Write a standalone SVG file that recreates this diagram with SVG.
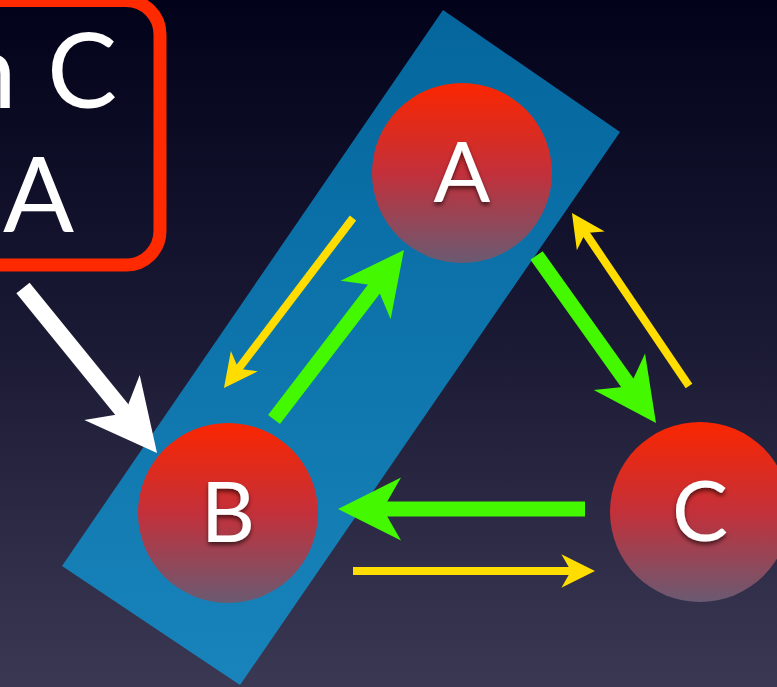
<svg xmlns="http://www.w3.org/2000/svg" width="777" height="687" viewBox="0 0 777 687">
  <defs>
    <linearGradient id="bg" x1="0" y1="0" x2="0" y2="1">
      <stop offset="0" stop-color="#02021a"/>
      <stop offset="0.5" stop-color="#1b1a35"/>
      <stop offset="1" stop-color="#3b3853"/>
    </linearGradient>
    <linearGradient id="blue" x1="0" y1="0" x2="0" y2="1">
      <stop offset="0" stop-color="#04669d"/>
      <stop offset="1" stop-color="#1884bb"/>
    </linearGradient>
    <linearGradient id="ball" x1="0" y1="0" x2="0" y2="1">
      <stop offset="0" stop-color="#fa2600"/>
      <stop offset="0.5" stop-color="#c3303a"/>
      <stop offset="1" stop-color="#6a5a72"/>
    </linearGradient>
    <filter id="shadow" x="-30%" y="-30%" width="160%" height="160%">
      <feDropShadow dx="0" dy="3" stdDeviation="2" flood-color="#000" flood-opacity="0.6"/>
    </filter>
    <marker id="hw" viewBox="-4.5 -2.5 5 5" markerWidth="5" markerHeight="5" refX="-2.8" refY="0" orient="auto">
      <path d="M0,0 L-4.2,-2.1 L-3,0 L-4.2,2.1 Z" fill="#ffffff"/>
    </marker>
    <marker id="hg" viewBox="-4.5 -2.5 5 5" markerWidth="5" markerHeight="5" refX="-2.8" refY="0" orient="auto">
      <path d="M0,0 L-4.2,-2.1 L-3,0 L-4.2,2.1 Z" fill="#44f800"/>
    </marker>
    <marker id="hy" viewBox="-4.5 -2.5 5 5" markerWidth="5" markerHeight="5" refX="-2.8" refY="0" orient="auto">
      <path d="M0,0 L-4.2,-2.1 L-3,0 L-4.2,2.1 Z" fill="#ffdd00"/>
    </marker>
  </defs>
  <style>
    .lbl { font-family: Lato, "Open Sans", "Liberation Sans", sans-serif; fill: #ffffff; }
    .node text { font-size: 84px; text-anchor: middle; }
    .ball { fill: url(#ball); }
    .white { stroke: #ffffff; stroke-width: 17; fill: none; marker-end: url(#hw); }
    .green { stroke: #44f800; stroke-width: 15; fill: none; marker-end: url(#hg); }
    .yellow { stroke: #ffdd00; stroke-width: 8; fill: none; marker-end: url(#hy); }
  </style>

  <rect x="0" y="0" width="777" height="687" fill="url(#bg)"/>

  <g id="highlight">
    <polygon points="443,10 620,132 240,685 62,566" fill="url(#blue)"/>
  </g>

  <g id="note">
    <rect x="-100" y="0.5" width="260" height="264.5" rx="34" fill="none" stroke="#ff2a00" stroke-width="13"/>
    <text class="lbl" font-size="105" y="108"><tspan x="-42">n</tspan> <tspan x="47">C</tspan></text>
    <text class="lbl" font-size="105" x="74" y="232" text-anchor="end">A</text>
  </g>

  <g id="node-A" class="node">
    <circle class="ball" cx="462" cy="173" r="90"/>
    <text class="lbl" x="462" y="202" filter="url(#shadow)">A</text>
  </g>
  <g id="node-B" class="node">
    <circle class="ball" cx="228" cy="513" r="90"/>
    <text class="lbl" x="228" y="542" filter="url(#shadow)">B</text>
  </g>
  <g id="node-C" class="node">
    <circle class="ball" cx="700" cy="512" r="90"/>
    <text class="lbl" x="700" y="541" filter="url(#shadow)">C</text>
  </g>

  <g id="connectors">
    <line class="white" x1="23" y1="288" x2="127" y2="416"/>
    <line class="green" x1="274" y1="419.5" x2="378.4" y2="283.3"/>
    <line class="green" x1="536.5" y1="255.5" x2="631.6" y2="388.8"/>
    <line class="green" x1="585" y1="509" x2="380" y2="509"/>
    <line class="yellow" x1="353" y1="218" x2="237.5" y2="370.1"/>
    <line class="yellow" x1="689" y1="386" x2="584.5" y2="231.6"/>
    <line class="yellow" x1="353" y1="571" x2="572.6" y2="571"/>
  </g>
</svg>
